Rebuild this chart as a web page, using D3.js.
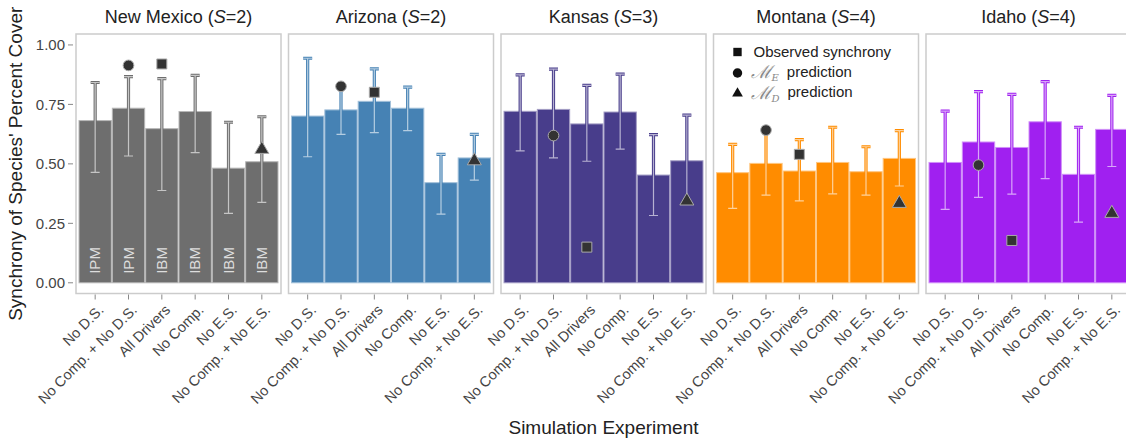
<!DOCTYPE html>
<html>
<head>
<meta charset="utf-8">
<script src="https://cdn.jsdelivr.net/npm/d3@7"></script>
<style>
  body { margin: 0; background: #fff; }
  svg { display: block; font-family: "Liberation Sans", Arial, sans-serif; }
</style>
</head>
<body>
<div id="chart"></div>
<script>
// sites (facets) and the simulation experiments on the x axis
const sites = ["New Mexico", "Arizona", "Kansas", "Montana", "Idaho"];
const speciesCount = [2, 2, 3, 4, 4];
const experiments = ["No D.S.", "No Comp. + No D.S.", "All Drivers", "No Comp.", "No E.S.", "No Comp. + No E.S."];
const modelType = ["IPM", "IPM", "IBM", "IBM", "IBM", "IBM"];
const siteColors = ["#6e6e6e", "#4682b4", "#483d8b", "#ff8c00", "#a020f0"];
const yTicks = [0, 0.25, 0.5, 0.75, 1];

// mean synchrony per site, one value per experiment
const meanSync = [
  [0.682, 0.734, 0.648, 0.720, 0.482, 0.509],
  [0.701, 0.727, 0.763, 0.734, 0.421, 0.525],
  [0.721, 0.729, 0.668, 0.718, 0.453, 0.513],
  [0.463, 0.502, 0.470, 0.506, 0.467, 0.523],
  [0.506, 0.592, 0.569, 0.677, 0.456, 0.645]
];
const lowerSync = [
  [0.464, 0.533, 0.388, 0.547, 0.292, 0.338],
  [0.530, 0.624, 0.631, 0.640, 0.289, 0.432],
  [0.555, 0.525, 0.511, 0.562, 0.283, 0.330],
  [0.313, 0.369, 0.344, 0.374, 0.369, 0.407],
  [0.309, 0.359, 0.373, 0.438, 0.255, 0.489]
];
const upperSync = [
  [0.842, 0.867, 0.858, 0.872, 0.675, 0.698],
  [0.944, 0.820, 0.899, 0.823, 0.540, 0.624],
  [0.874, 0.898, 0.830, 0.877, 0.623, 0.705],
  [0.582, 0.640, 0.602, 0.654, 0.572, 0.640],
  [0.722, 0.804, 0.792, 0.846, 0.654, 0.788]
];
// observed synchrony (at "All Drivers") and model predictions
const observedSync = [0.920, 0.801, 0.150, 0.540, 0.178];
const predictE = [0.914, 0.826, 0.619, 0.642, 0.495];   // at "No Comp. + No D.S."
const predictD = [0.561, 0.513, 0.344, 0.334, 0.292];   // at "No Comp. + No E.S."

const width = 1126, height = 441;
const panelLeft = 76, panelStep = 212.5, panelW = 205;
const panelTop = 34, panelBottom = 293.5;

const svg = d3.select("#chart").append("svg")
  .attr("width", width).attr("height", height);

const y = d3.scaleLinear().domain([-0.045, 1.046]).range([panelBottom, panelTop]);

// y axis ticks + labels
const yAxis = svg.append("g");
yAxis.selectAll("line").data(yTicks).join("line")
  .attr("x1", 68).attr("x2", 73)
  .attr("y1", d => y(d)).attr("y2", d => y(d))
  .attr("stroke", "#888").attr("stroke-width", 1);
yAxis.selectAll("text").data(yTicks).join("text")
  .attr("x", 65).attr("y", d => y(d)).attr("dy", "0.35em")
  .attr("text-anchor", "end").attr("font-size", 15).attr("fill", "#444")
  .text(d => d3.format(".2f")(d));

svg.append("text")
  .attr("transform", `translate(22,${(panelTop + panelBottom) / 2}) rotate(-90)`)
  .attr("text-anchor", "middle").attr("font-size", 19).attr("fill", "#222")
  .text("Synchrony of Species' Percent Cover");

svg.append("text")
  .attr("x", panelLeft + (4 * panelStep + panelW) / 2).attr("y", 434)
  .attr("text-anchor", "middle").attr("font-size", 19).attr("fill", "#222")
  .text("Simulation Experiment");

const sym = (type, size) => d3.symbol().type(type).size(size)();

sites.forEach((site, s) => {
  const x0 = panelLeft + s * panelStep;
  const color = siteColors[s];
  const light = d3.interpolateRgb(color, "#ffffff")(0.5);
  const x = d3.scaleBand().domain(experiments).range([x0 + 3, x0 + panelW - 3]).paddingInner(0.03);
  const cx = e => x(e) + x.bandwidth() / 2;
  const g = svg.append("g");

  // title
  const title = g.append("text")
    .attr("x", x0 + panelW / 2).attr("y", 23)
    .attr("text-anchor", "middle").attr("font-size", 18).attr("fill", "#222");
  title.append("tspan").text(site + " (");
  title.append("tspan").attr("font-style", "italic").text("S");
  title.append("tspan").text("=" + speciesCount[s] + ")");

  // frame
  g.append("rect")
    .attr("x", x0).attr("y", panelTop).attr("width", panelW).attr("height", panelBottom - panelTop)
    .attr("fill", "none").attr("stroke", "#cccccc").attr("stroke-width", 1.5);

  // bars
  g.selectAll("rect.bar").data(experiments).join("rect")
    .attr("class", "bar")
    .attr("x", d => x(d)).attr("width", x.bandwidth())
    .attr("y", (d, i) => y(meanSync[s][i]))
    .attr("height", (d, i) => y(0) - y(meanSync[s][i]))
    .attr("fill", color).attr("stroke", light).attr("stroke-width", 1);

  // error bars: coloured outline with a light core
  const errPath = (d, i) => {
    const c = cx(d), lo = y(lowerSync[s][i]), hi = y(upperSync[s][i]);
    return `M${c},${lo}V${hi}M${c - 4.5},${hi}H${c + 4.5}M${c - 4.5},${lo}H${c + 4.5}`;
  };
  g.selectAll("path.errOut").data(experiments).join("path")
    .attr("class", "errOut").attr("d", errPath)
    .attr("fill", "none").attr("stroke", color).attr("stroke-width", 3.2);
  g.selectAll("path.errIn").data(experiments).join("path")
    .attr("class", "errIn").attr("d", errPath)
    .attr("fill", "none").attr("stroke", d3.interpolateRgb(color, "#ffffff")(0.6)).attr("stroke-width", 1.2);

  // model labels in the first panel
  if (s === 0) {
    g.selectAll("text.model").data(experiments).join("text")
      .attr("class", "model")
      .attr("transform", d => `translate(${cx(d)},${y(0) - 9}) rotate(-90)`)
      .attr("dy", "0.35em").attr("font-size", 15).attr("fill", "#dddddd")
      .text((d, i) => modelType[i]);
  }

  // x ticks + labels
  g.selectAll("line.xt").data(experiments).join("line")
    .attr("class", "xt")
    .attr("x1", cx).attr("x2", cx).attr("y1", panelBottom + 1).attr("y2", panelBottom + 6)
    .attr("stroke", "#888");
  g.selectAll("text.xl").data(experiments).join("text")
    .attr("class", "xl")
    .attr("transform", d => `translate(${cx(d) + 2},${panelBottom + 10}) rotate(-45)`)
    .attr("text-anchor", "end").attr("dy", "0.72em")
    .attr("font-size", 14.5).attr("fill", "#444")
    .text(d => d);

  // observed + predicted markers
  const markers = [
    { type: d3.symbolSquare, size: 100, exp: "All Drivers", v: observedSync[s] },
    { type: d3.symbolCircle, size: 90, exp: "No Comp. + No D.S.", v: predictE[s] },
    { type: d3.symbolTriangle, size: 85, exp: "No Comp. + No E.S.", v: predictD[s] }
  ];
  g.selectAll("path.mk").data(markers).join("path")
    .attr("class", "mk")
    .attr("transform", d => `translate(${cx(d.exp)},${y(d.v)})`)
    .attr("d", d => sym(d.type, d.size))
    .attr("fill", "#333333").attr("stroke", "#aaaaaa").attr("stroke-width", 1);
});

// legend in the Montana panel
const legendX = panelLeft + 3 * panelStep + 24;
const legendRows = [
  { type: d3.symbolSquare, size: 70, y: 52 },
  { type: d3.symbolCircle, size: 70, y: 73 },
  { type: d3.symbolTriangle, size: 50, y: 93.5 }
];
const legend = svg.append("g");
legend.selectAll("path").data(legendRows).join("path")
  .attr("transform", d => `translate(${legendX},${d.y})`)
  .attr("d", d => sym(d.type, d.size)).attr("fill", "#111");
legend.append("text").attr("x", legendX + 16).attr("y", 52).attr("dy", "0.35em")
  .attr("font-size", 15).attr("fill", "#222").text("Observed synchrony");
["E", "D"].forEach((sub, i) => {
  const t = legend.append("text").attr("x", legendX + 13).attr("y", legendRows[i + 1].y).attr("dy", "0.35em")
    .attr("font-size", 15).attr("fill", "#222");
  t.append("tspan").attr("font-family", "DejaVu Serif").attr("font-style", "italic").attr("fill", "#888")
    .attr("font-size", 18).text("ℳ");
  t.append("tspan").attr("font-family", "DejaVu Serif").attr("font-style", "italic").attr("fill", "#888")
    .attr("font-size", 10).attr("dy", "0.3em").text(sub);
  t.append("tspan").attr("dy", "-0.3em").attr("dx", 8).text("prediction");
});
</script>
</body>
</html>
